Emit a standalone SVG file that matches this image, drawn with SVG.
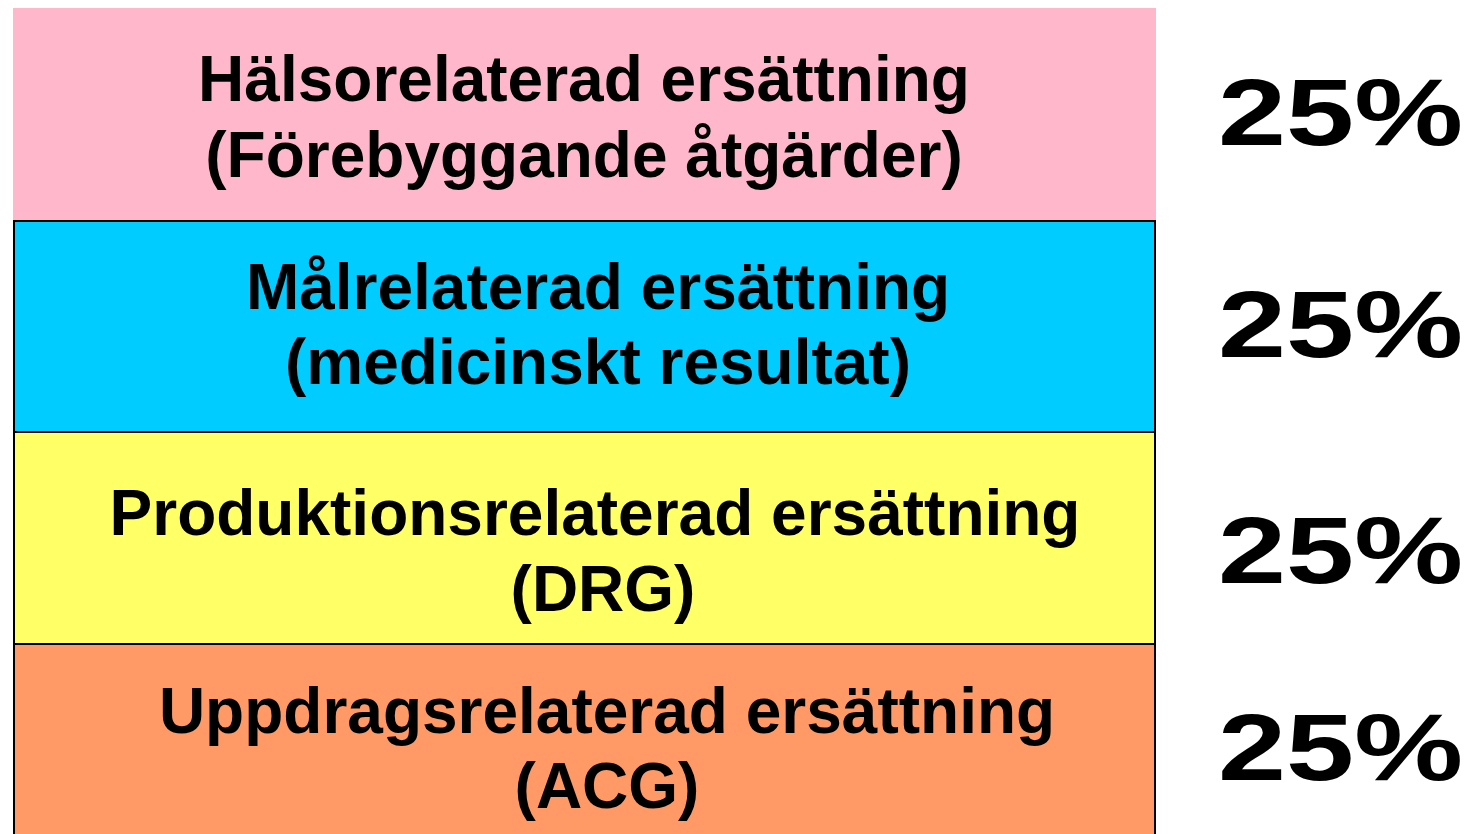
<svg xmlns="http://www.w3.org/2000/svg" width="1479" height="834" viewBox="0 0 1479 834">
<style>
.box{stroke:#000;stroke-width:2}
.lbl{font-family:"Liberation Sans",Arial,sans-serif;font-weight:bold;font-size:64px;fill:#000;text-anchor:middle}
.pct{font-family:"Liberation Sans",Arial,sans-serif;font-weight:bold;font-size:94px;fill:#000}
</style>
<rect x="0" y="0" width="1479" height="834" fill="#fff"/>
<g id="node-halso">
<rect x="13" y="8" width="1143" height="213" fill="#FFB8CB"/>
<text class="lbl" x="584" y="101">Hälsorelaterad ersättning</text>
<text class="lbl" x="584" y="177">(Förebyggande åtgärder)</text>
</g>
<g id="node-mal">
<rect class="box" x="14" y="221" width="1141" height="211" fill="#00CCFF"/>
<text class="lbl" x="598" y="309">Målrelaterad ersättning</text>
<text class="lbl" x="598" y="384">(medicinskt resultat)</text>
</g>
<g id="node-prod">
<rect class="box" x="14" y="432" width="1141" height="212" fill="#FFFF66"/>
<text class="lbl" x="595" y="535">Produktionsrelaterad ersättning</text>
<text class="lbl" x="603" y="611">(DRG)</text>
</g>
<g id="node-uppdrag">
<rect class="box" x="14" y="644" width="1141" height="200" fill="#FF9966"/>
<text class="lbl" x="607" y="733">Uppdragsrelaterad ersättning</text>
<text class="lbl" x="607" y="808">(ACG)</text>
</g>
<g id="percentages">
<text class="pct" x="1218" y="145" textLength="245" lengthAdjust="spacingAndGlyphs">25%</text>
<text class="pct" x="1218" y="357" textLength="245" lengthAdjust="spacingAndGlyphs">25%</text>
<text class="pct" x="1218" y="583" textLength="245" lengthAdjust="spacingAndGlyphs">25%</text>
<text class="pct" x="1218" y="780" textLength="245" lengthAdjust="spacingAndGlyphs">25%</text>
</g>
<g id="connectors"></g>
</svg>
